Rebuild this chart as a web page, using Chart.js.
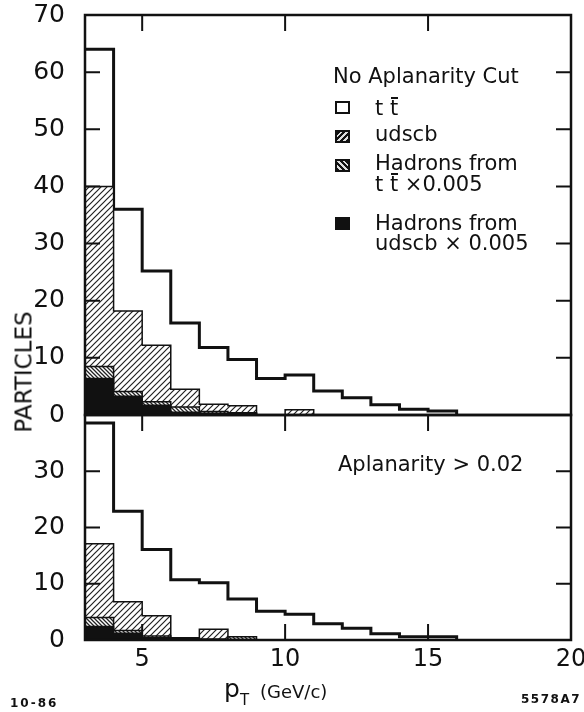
<!DOCTYPE html>
<html>
<head>
<meta charset="utf-8">
<script src="https://cdn.jsdelivr.net/npm/chart.js@4.4.1/dist/chart.umd.min.js"></script>
<style>
html, body { margin: 0; padding: 0; background: #fff; }
#wrap { position: relative; width: 584px; height: 712px; font-family: 'DejaVu Sans', sans-serif; color: #111; overflow: hidden; }
#wrap canvas { position: absolute; left: 0; top: 0; }
.t { position: absolute; white-space: nowrap; font-size: 21px; line-height: 21px; }
.sw { position: absolute; width: 15px; height: 13px; border: 2px solid #111; box-sizing: border-box; background: #fff; }
.bar { position: relative; }
.bar::after { content: ''; position: absolute; left: 1px; right: 0; top: 1px; border-top: 2px solid #111; }
</style>
</head>
<body>
<div id="wrap">
  <canvas id="c" width="584" height="712"></canvas>

  <div class="t" style="left:333px;top:66px">No Aplanarity Cut</div>
  <div class="sw" style="left:335px;top:101px"></div>
  <div class="t" style="left:375px;top:98px">t <span class="bar">t</span></div>
  <div class="sw" style="left:335px;top:130px;background:repeating-linear-gradient(-45deg,#111 0 2px,#ddd 2px 4px)"></div>
  <div class="t" style="left:375px;top:124px">udscb</div>
  <div class="sw" style="left:335px;top:159px;background:repeating-linear-gradient(45deg,#111 0 2px,#ddd 2px 4px)"></div>
  <div class="t" style="left:375px;top:153px">Hadrons from</div>
  <div class="t" style="left:375px;top:174px">t <span class="bar">t</span> ×0.005</div>
  <div class="sw" style="left:335px;top:217px;background:#111"></div>
  <div class="t" style="left:375px;top:213px">Hadrons from</div>
  <div class="t" style="left:375px;top:233px">udscb × 0.005</div>

  <div class="t" style="left:338px;top:454px">Aplanarity &gt; 0.02</div>

  <div class="t" style="left:24px;top:372px;font-size:23px;line-height:23px;transform:translate(-50%,-50%) rotate(-90deg);">PARTICLES</div>

  <div class="t" style="left:224px;top:676px;font-size:25px;line-height:25px">p<span style="font-size:15px;position:relative;top:8px">T</span></div>
  <div class="t" style="left:260px;top:683px;font-size:18px;line-height:18px">(GeV/c)</div>

  <div class="t" style="left:10px;top:697px;font-size:12px;line-height:12px;font-weight:bold;letter-spacing:2px">10-86</div>
  <div class="t" style="left:521px;top:693px;font-size:12px;line-height:12px;font-weight:bold;letter-spacing:1.5px">5578A7</div>
</div>

<script>
// Histogramm-Daten: Bins der Breite 1 GeV/c von 3 bis 16
const binEdges = [3, 4, 5, 6, 7, 8, 9, 10, 11, 12, 13, 14, 15, 16];
const xTicks = [5, 10, 15, 20];
const yTicksTop = [0, 10, 20, 30, 40, 50, 60, 70];
const yTicksBottom = [0, 10, 20, 30];

// Oben: ohne Aplanarity-Schnitt
const ttTop          = [64, 36, 25.2, 16.1, 11.8, 9.7, 6.4, 7.0, 4.2, 3.0, 1.8, 1.0, 0.7];
const udscbTop       = [40, 18.2, 12.2, 4.5, 1.9, 1.6, 0, 0.9, 0, 0, 0, 0, 0];
const hadTtTop       = [8.5, 4.1, 2.3, 1.4, 0.6, 0.4, 0, 0, 0, 0, 0, 0, 0];
const hadUdscbTop    = [6.4, 3.3, 1.7, 0.5, 0.3, 0.2, 0, 0, 0, 0, 0, 0, 0];

// Unten: Aplanarity > 0.02
const ttBottom       = [38.6, 22.9, 16.1, 10.7, 10.2, 7.3, 5.1, 4.6, 2.9, 2.1, 1.1, 0.6, 0.6];
const udscbBottom    = [17.1, 6.8, 4.3, 0, 1.9, 0, 0, 0, 0, 0, 0, 0, 0];
const hadTtBottom    = [4.0, 1.7, 0.7, 0.2, 0, 0.6, 0, 0, 0, 0, 0, 0, 0];
const hadUdscbBottom = [2.4, 1.2, 0.4, 0.4, 0.2, 0.1, 0, 0, 0, 0, 0, 0, 0];

const canvas = document.getElementById('c');
const ctx = canvas.getContext('2d');

// Stufenpunkte: linke Binkante mit Wert, am Ende zurück auf 0
const steps = (vals) => {
    const pts = vals.map((v, i) => ({ x: binEdges[i], y: v }));
    pts.push({ x: binEdges[vals.length], y: 0 });
    return pts;
};

// Schraffur-Muster
const hatch = (forward, gap, lw) => {
    const p = document.createElement('canvas');
    p.width = gap; p.height = gap;
    const g = p.getContext('2d');
    g.fillStyle = '#fff';
    g.fillRect(0, 0, gap, gap);
    g.strokeStyle = '#222';
    g.lineWidth = lw;
    g.beginPath();
    if (forward) {
        g.moveTo(-1, gap + 1); g.lineTo(gap + 1, -1);
        g.moveTo(-1, 1); g.lineTo(1, -1);
        g.moveTo(gap - 1, gap + 1); g.lineTo(gap + 1, gap - 1);
    } else {
        g.moveTo(-1, -1); g.lineTo(gap + 1, gap + 1);
        g.moveTo(gap - 1, -1); g.lineTo(gap + 1, 1);
        g.moveTo(-1, gap - 1); g.lineTo(1, gap + 1);
    }
    g.stroke();
    return ctx.createPattern(p, 'repeat');
};

const udscbFill = hatch(true, 6, 1.2);
const hadTtFill = hatch(false, 4, 1.3);

// 'before': erst waagerecht auf altem Wert, dann senkrecht
const base = { stepped: 'before', pointRadius: 0, borderColor: '#111', borderWidth: 1.5, fill: 'origin' };

const panel = (axis, tt, udscb, hadTt, hadUdscb) => [
    { ...base, label: 'Hadrons udscb', data: steps(hadUdscb), yAxisID: axis, backgroundColor: '#111' },
    { ...base, label: 'Hadrons tt', data: steps(hadTt), yAxisID: axis, backgroundColor: hadTtFill },
    { ...base, label: 'udscb', data: steps(udscb), yAxisID: axis, backgroundColor: udscbFill },
    { ...base, label: 'tt', data: steps(tt), yAxisID: axis, fill: false, borderWidth: 3, backgroundColor: 'transparent' }
];

// Rahmen und nach innen zeigende Ticks
const framePlugin = {
    id: 'frame',
    afterDatasetsDraw(chart) {
        const c = chart.ctx;
        const a = chart.chartArea;
        const x = chart.scales.x;
        const yt = chart.scales.yTop;
        const yb = chart.scales.yBottom;
        c.save();
        c.strokeStyle = '#111';
        c.lineWidth = 2.5;
        c.strokeRect(a.left, yt.top, a.right - a.left, yt.bottom - yt.top);
        c.strokeRect(a.left, yb.top, a.right - a.left, yb.bottom - yb.top);
        c.lineWidth = 2;
        c.beginPath();
        [[yt, yTicksTop], [yb, yTicksBottom]].forEach(([s, ticks]) => {
            ticks.forEach(v => {
                if (v === 0 || v === s.max) return;
                const py = s.getPixelForValue(v);
                c.moveTo(a.left, py); c.lineTo(a.left + 15, py);
                c.moveTo(a.right, py); c.lineTo(a.right - 15, py);
            });
        });
        xTicks.forEach(v => {
            if (v === x.max) return;
            const px = x.getPixelForValue(v);
            c.moveTo(px, yt.top); c.lineTo(px, yt.top + 16);
            c.moveTo(px, yb.top); c.lineTo(px, yb.top + 16);
            c.moveTo(px, yb.bottom); c.lineTo(px, yb.bottom - 16);
        });
        c.stroke();
        c.restore();
    }
};

const tickFont = { family: 'DejaVu Sans', size: 25 };

const yScale = (min, max, weight, ticks) => ({
    type: 'linear',
    position: 'left',
    stack: 'panels',
    stackWeight: weight,
    min: min,
    max: max,
    afterBuildTicks: s => { s.ticks = ticks.map(v => ({ value: v })); },
    afterFit: s => { s.width = 85; s.paddingTop = 0; s.paddingBottom = 0; },
    grid: { display: false, drawTicks: false },
    border: { display: false },
    ticks: { color: '#111', font: tickFont, padding: 20, autoSkip: false }
});

new Chart(ctx, {
    type: 'line',
    data: {
        datasets: [
            ...panel('yTop', ttTop, udscbTop, hadTtTop, hadUdscbTop),
            ...panel('yBottom', ttBottom, udscbBottom, hadTtBottom, hadUdscbBottom)
        ]
    },
    options: {
        responsive: false,
        animation: false,
        devicePixelRatio: 1,
        layout: { padding: { top: 15, right: 13, left: 0, bottom: 0 } },
        plugins: {
            legend: { display: false },
            tooltip: { enabled: false }
        },
        scales: {
            x: {
                type: 'linear',
                min: 3,
                max: 20,
                afterBuildTicks: s => { s.ticks = xTicks.map(v => ({ value: v })); },
                afterFit: s => { s.height = 72; s.paddingLeft = 0; s.paddingRight = 0; },
                grid: { display: false, drawTicks: false },
                border: { display: false },
                ticks: { color: '#111', font: { family: 'DejaVu Sans', size: 24 }, padding: 5, maxRotation: 0, autoSkip: false }
            },
            yBottom: yScale(0, 40, 225, yTicksBottom),
            yTop: yScale(0, 70, 400, yTicksTop)
        }
    },
    plugins: [framePlugin]
});
</script>
</body>
</html>
